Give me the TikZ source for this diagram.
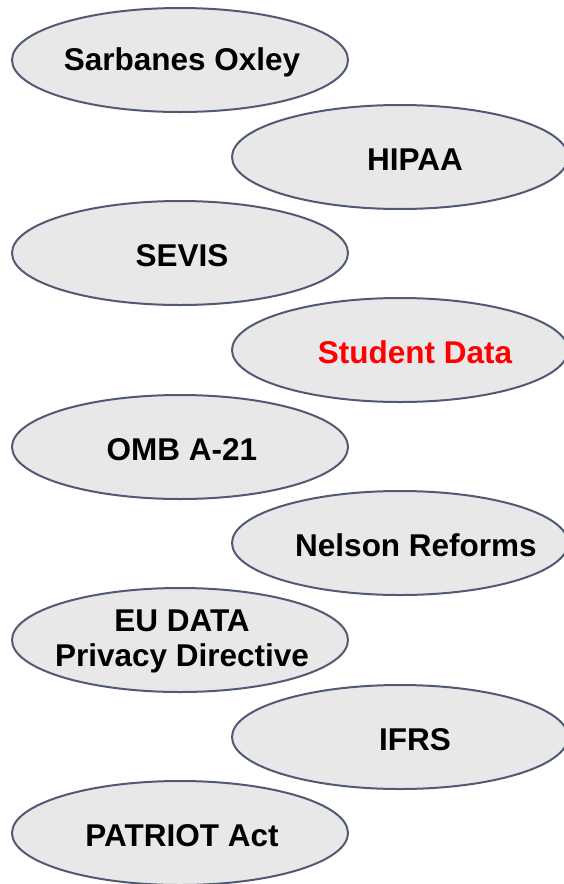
\documentclass[tikz,border=0pt]{standalone}
\usepackage{fontspec}
\setmainfont{Liberation Sans}
\usetikzlibrary{shapes.geometric}
\definecolor{ellfill}{HTML}{E8E8E8}
\definecolor{elldraw}{HTML}{505A72}
\begin{document}
\begin{tikzpicture}[x=1pt,y=-1pt,
  oval/.style={ellipse,draw=elldraw,fill=ellfill,line width=2pt,minimum width=336pt,minimum height=104pt,inner sep=0pt},
  lbl/.style={font=\fontsize{31.5}{35}\selectfont\bfseries,align=center,text=black}]
\useasboundingbox (0,0) rectangle (564,884);
\foreach \n/\y in {o1/60,o3/253,o5/447,o7/640,o9/833}{
  \node[oval] (\n) at (180,\y) {};
}
\foreach \n/\y in {o2/157,o4/350,o6/543,o8/737}{
  \node[oval] (\n) at (400,\y) {};
}
\node[lbl] (t1) at ([xshift=2pt,yshift=-2.5pt]o1.center) {Sarbanes Oxley};
\node[lbl] (t2) at ([xshift=15pt,yshift=-2.5pt]o2.center) {HIPAA};
\node[lbl] (t3) at ([xshift=2pt,yshift=-2.5pt]o3.center) {SEVIS};
\node[lbl,text=red] (t4) at ([xshift=15pt,yshift=-2.5pt]o4.center) {Student Data};
\node[lbl] (t5) at ([xshift=2pt,yshift=-2.5pt]o5.center) {OMB A-21};
\node[lbl] (t6) at ([xshift=16pt,yshift=-2.5pt]o6.center) {Nelson Reforms};
\node[lbl] (t7) at ([xshift=2pt,yshift=-1.5pt]o7.center) {EU DATA\\Privacy Directive};
\node[lbl] (t8) at ([xshift=15pt,yshift=-2.5pt]o8.center) {IFRS};
\node[lbl] (t9) at ([xshift=2pt,yshift=-2.5pt]o9.center) {PATRIOT Act};
\end{tikzpicture}
\end{document}
